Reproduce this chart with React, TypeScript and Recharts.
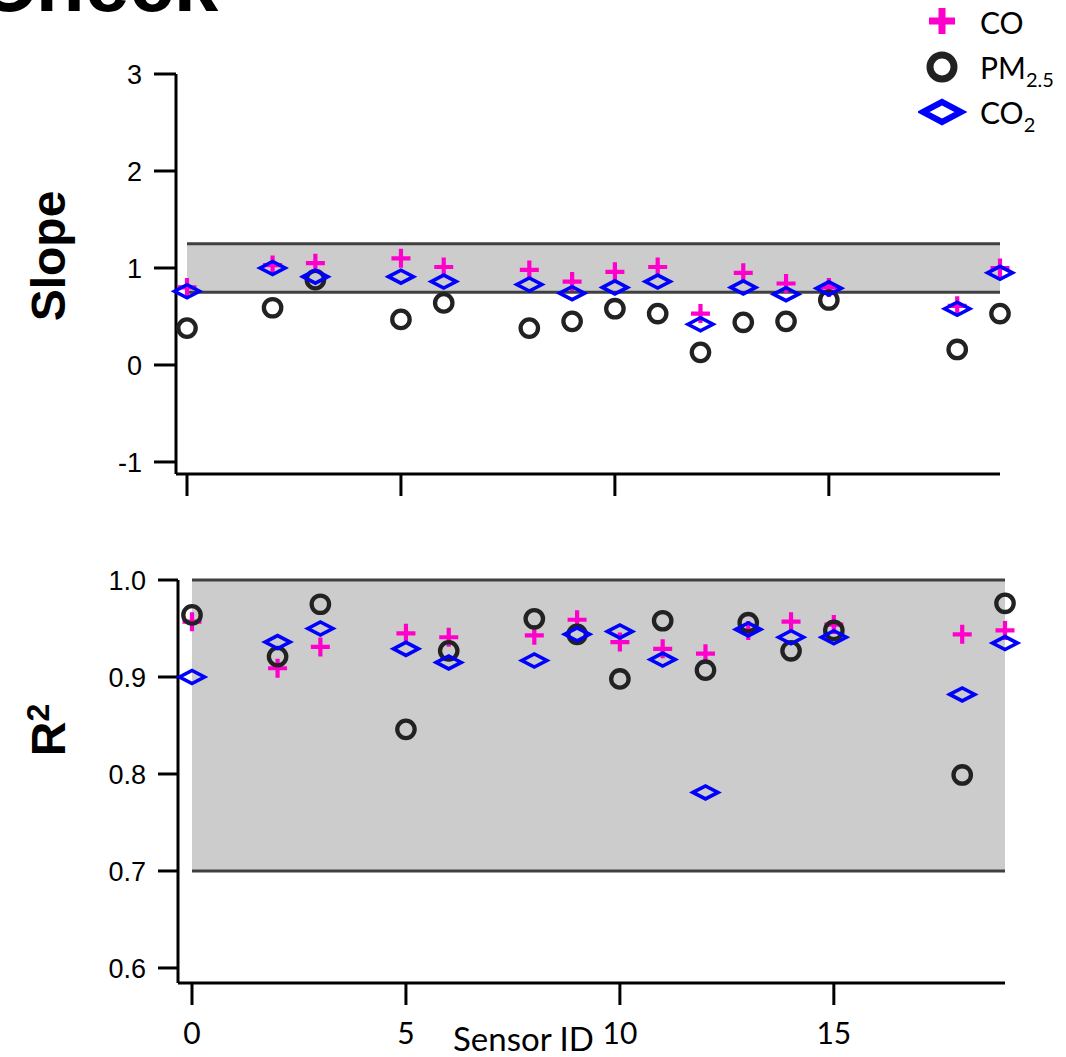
import React from "react";
import {
  ScatterChart,
  Scatter,
  XAxis,
  YAxis,
  ReferenceArea,
  ReferenceLine,
} from "recharts";

// ---- data ----
const sensorIds = [0, 2, 3, 5, 6, 8, 9, 10, 11, 12, 13, 14, 15, 18, 19];

const slopeCO = [0.8, 1.03, 1.05, 1.1, 1.01, 0.98, 0.86, 0.96, 1.01, 0.53, 0.95, 0.84, 0.8, 0.61, 1.0];
const slopePM = [0.38, 0.59, 0.88, 0.47, 0.64, 0.38, 0.45, 0.58, 0.53, 0.13, 0.44, 0.45, 0.67, 0.16, 0.53];
const slopeCO2 = [0.76, 1.0, 0.91, 0.91, 0.86, 0.83, 0.74, 0.8, 0.86, 0.42, 0.8, 0.73, 0.79, 0.58, 0.95];

const r2CO = [0.957, 0.909, 0.931, 0.945, 0.941, 0.943, 0.959, 0.936, 0.929, 0.924, 0.948, 0.957, 0.954, 0.944, 0.948];
const r2PM = [0.964, 0.921, 0.975, 0.846, 0.927, 0.96, 0.944, 0.898, 0.958, 0.907, 0.956, 0.927, 0.948, 0.799, 0.976];
const r2CO2 = [0.9, 0.936, 0.95, 0.929, 0.915, 0.917, 0.944, 0.947, 0.918, 0.781, 0.949, 0.941, 0.941, 0.882, 0.935];

const xTicks = [0, 5, 10, 15];
const slopeTicks = [-1, 0, 1, 2, 3];
const r2Ticks = [0.6, 0.7, 0.8, 0.9, 1.0];

const slopeBand = [0.75, 1.25];
const r2Band = [0.7, 1.0];
const bandX = [0, 19];

const toPoints = (vals: number[]) => sensorIds.map((x, i) => ({ x, y: vals[i] }));

// ---- styles ----
const MAGENTA = "#ff00cc";
const DARK = "#222222";
const BLUE = "#0000ff";
const BAND = "#cccccc";
const BAND_LINE = "#404040";
const ARIAL = "'Liberation Sans', Arial, sans-serif";
const HUMAN = "Lato, 'Open Sans', sans-serif";

const PlusShape = (props: any) => {
  const { cx, cy } = props;
  if (cx == null || cy == null) return null;
  const s = 9.5;
  return (
    <path
      d={`M${cx - s},${cy}H${cx + s}M${cx},${cy - s}V${cy + s}`}
      stroke={MAGENTA}
      strokeWidth={4.2}
      fill="none"
    />
  );
};

const CircleShape = (props: any) => {
  const { cx, cy } = props;
  if (cx == null || cy == null) return null;
  return <circle cx={cx} cy={cy} r={8.7} fill="none" stroke={DARK} strokeWidth={4.3} />;
};

const DiamondShape = (props: any) => {
  const { cx, cy } = props;
  if (cx == null || cy == null) return null;
  const w = 12.5;
  const h = 6.5;
  return (
    <path
      d={`M${cx - w},${cy}L${cx},${cy - h}L${cx + w},${cy}L${cx},${cy + h}Z`}
      fill="none"
      stroke={BLUE}
      strokeWidth={3.6}
      strokeLinejoin="miter"
    />
  );
};

const EmptyTick = () => <g />;

const axisLine = { stroke: "#000", strokeWidth: 3 };
const tickLine = { stroke: "#000", strokeWidth: 3 };
const yTickStyle = { fill: "#000", fontSize: 27, fontFamily: ARIAL };
const xTickStyle = { fill: "#000", fontSize: 30, fontFamily: HUMAN };

export default function App() {
  return (
    <div
      style={{
        position: "absolute",
        left: 0,
        top: 0,
        width: 1066,
        height: 1057,
        background: "#fff",
        overflow: "hidden",
      }}
    >
      {/* cut-off title */}
      <div
        style={{
          position: "absolute",
          left: -22,
          top: -56,
          fontFamily: ARIAL,
          fontWeight: "bold",
          fontSize: 80,
          lineHeight: 1,
          color: "#000",
          whiteSpace: "nowrap",
        }}
      >
        Check
      </div>

      {/* Top panel: Slope */}
      <div style={{ position: "absolute", left: 0, top: 0 }}>
        <ScatterChart
          width={1066}
          height={530}
          margin={{ top: 74, right: 66, left: 76, bottom: 26 }}
        >
          <XAxis
            type="number"
            dataKey="x"
            domain={[-0.257, 19]}
            ticks={xTicks}
            height={30}
            tick={EmptyTick}
            tickSize={22}
            axisLine={axisLine}
            tickLine={tickLine}
          />
          <YAxis
            type="number"
            dataKey="y"
            domain={[-1.124, 3]}
            ticks={slopeTicks}
            width={100}
            tickSize={22}
            tickMargin={12}
            tick={yTickStyle}
            axisLine={axisLine}
            tickLine={tickLine}
          />
          <ReferenceArea
            x1={bandX[0]}
            x2={bandX[1]}
            y1={slopeBand[0]}
            y2={slopeBand[1]}
            fill={BAND}
            fillOpacity={1}
            stroke="none"
            ifOverflow="visible"
          />
          <ReferenceLine
            segment={[
              { x: bandX[0], y: slopeBand[1] },
              { x: bandX[1], y: slopeBand[1] },
            ]}
            stroke={BAND_LINE}
            strokeWidth={3}
            ifOverflow="visible"
          />
          <ReferenceLine
            segment={[
              { x: bandX[0], y: slopeBand[0] },
              { x: bandX[1], y: slopeBand[0] },
            ]}
            stroke={BAND_LINE}
            strokeWidth={3}
            ifOverflow="visible"
          />
          <Scatter data={toPoints(slopeCO)} shape={PlusShape} isAnimationActive={false} />
          <Scatter data={toPoints(slopePM)} shape={CircleShape} isAnimationActive={false} />
          <Scatter data={toPoints(slopeCO2)} shape={DiamondShape} isAnimationActive={false} />
        </ScatterChart>
      </div>

      {/* Bottom panel: R2 */}
      <div style={{ position: "absolute", left: 0, top: 530 }}>
        <ScatterChart
          width={1066}
          height={527}
          margin={{ top: 50, right: 61, left: 78, bottom: 14 }}
        >
          <XAxis
            type="number"
            dataKey="x"
            domain={[-0.327, 19]}
            ticks={xTicks}
            height={60}
            tickSize={22}
            tickMargin={18}
            tick={xTickStyle}
            axisLine={axisLine}
            tickLine={tickLine}
          />
          <YAxis
            type="number"
            dataKey="y"
            domain={[0.5845, 1.0]}
            ticks={r2Ticks}
            tickFormatter={(v: number) => v.toFixed(1)}
            width={100}
            tickSize={20}
            tickMargin={12}
            tick={yTickStyle}
            axisLine={axisLine}
            tickLine={tickLine}
          />
          <ReferenceArea
            x1={bandX[0]}
            x2={bandX[1]}
            y1={r2Band[0]}
            y2={r2Band[1]}
            fill={BAND}
            fillOpacity={1}
            stroke="none"
            ifOverflow="visible"
          />
          <ReferenceLine
            segment={[
              { x: bandX[0], y: r2Band[1] },
              { x: bandX[1], y: r2Band[1] },
            ]}
            stroke={BAND_LINE}
            strokeWidth={3}
            ifOverflow="visible"
          />
          <ReferenceLine
            segment={[
              { x: bandX[0], y: r2Band[0] },
              { x: bandX[1], y: r2Band[0] },
            ]}
            stroke={BAND_LINE}
            strokeWidth={3}
            ifOverflow="visible"
          />
          <Scatter data={toPoints(r2CO)} shape={PlusShape} isAnimationActive={false} />
          <Scatter data={toPoints(r2PM)} shape={CircleShape} isAnimationActive={false} />
          <Scatter data={toPoints(r2CO2)} shape={DiamondShape} isAnimationActive={false} />
        </ScatterChart>
      </div>

      {/* Y axis titles */}
      <div
        style={{
          position: "absolute",
          left: 49,
          top: 256,
          transform: "translate(-50%, -50%) rotate(-90deg)",
          fontFamily: ARIAL,
          fontWeight: "bold",
          fontSize: 48,
          lineHeight: 1,
          whiteSpace: "nowrap",
          color: "#000",
        }}
      >
        Slope
      </div>
      <div
        style={{
          position: "absolute",
          left: 49,
          top: 730,
          transform: "translate(-50%, -50%) rotate(-90deg)",
          fontFamily: ARIAL,
          fontWeight: "bold",
          fontSize: 48,
          lineHeight: 1,
          whiteSpace: "nowrap",
          color: "#000",
        }}
      >
        R
        <span style={{ fontSize: 32, position: "relative", top: -16 }}>2</span>
      </div>

      {/* X axis title */}
      <div
        style={{
          position: "absolute",
          left: 453,
          top: 1022,
          fontFamily: HUMAN,
          fontSize: 33,
          lineHeight: 1,
          whiteSpace: "nowrap",
          color: "#000",
        }}
      >
        Sensor ID
      </div>

      {/* Legend */}
      <div style={{ position: "absolute", left: 918, top: 0, width: 148, height: 140 }}>
        <svg width={50} height={140} style={{ position: "absolute", left: 0, top: 0 }}>
          <path d="M11,21H37M24,8V34" stroke={MAGENTA} strokeWidth={7} fill="none" />
          <circle cx={24} cy={67} r={12} fill="none" stroke={DARK} strokeWidth={7} />
          <path d="M5,112L24,102L43,112L24,122Z" fill="none" stroke={BLUE} strokeWidth={6} />
        </svg>
        {[
          { main: "CO", sub: "", top: 7 },
          { main: "PM", sub: "2.5", top: 52 },
          { main: "CO", sub: "2", top: 97 },
        ].map((e, i) => (
          <div
            key={i}
            style={{
              position: "absolute",
              left: 62,
              top: e.top,
              fontFamily: HUMAN,
              fontSize: 30,
              lineHeight: 1,
              whiteSpace: "nowrap",
              color: "#000",
            }}
          >
            {e.main}
            {e.sub ? (
              <sub style={{ fontSize: 20, verticalAlign: "-8px", lineHeight: 1 }}>{e.sub}</sub>
            ) : null}
          </div>
        ))}
      </div>
    </div>
  );
}
